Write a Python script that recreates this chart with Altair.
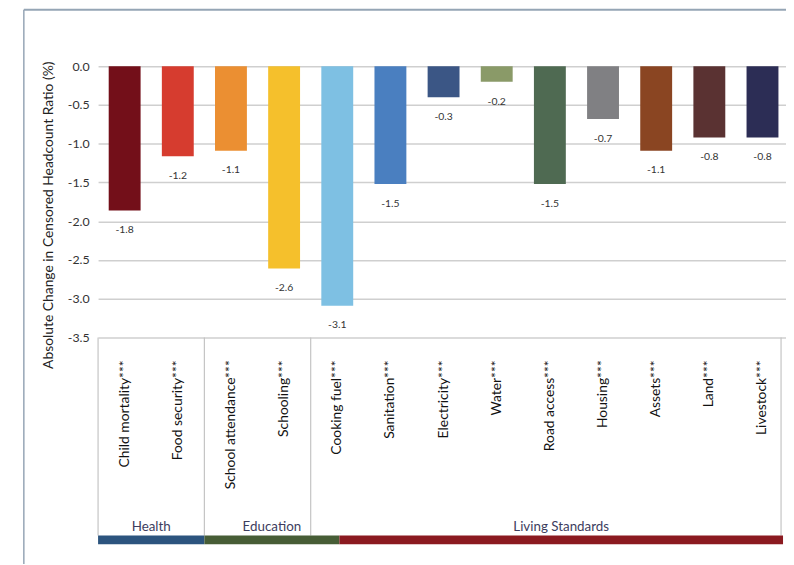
import altair as alt
import pandas as pd

# ---------------- data ----------------
categories = ["Child mortality***", "Food security***", "School attendance***", "Schooling***",
              "Cooking fuel***", "Sanitation***", "Electricity***", "Water***", "Road access***",
              "Housing***", "Assets***", "Land***", "Livestock***"]
values = [-1.86, -1.16, -1.09, -2.61, -3.09, -1.52, -0.40, -0.20, -1.52, -0.68, -1.09, -0.92, -0.92]
value_labels = ["-1.8", "-1.2", "-1.1", "-2.6", "-3.1", "-1.5", "-0.3", "-0.2", "-1.5",
                "-0.7", "-1.1", "-0.8", "-0.8"]
bar_colors = ["#730f19", "#d63c2f", "#eb8f32", "#f5c02c", "#7ec0e3", "#4a7fc0", "#3b5685",
              "#8a9a68", "#4f6a52", "#808083", "#8a4522", "#5a3232", "#2c2d55"]
groups = ["Health", "Education", "Living Standards"]
group_colors = ["#2c547e", "#475d36", "#8b1a20"]
y_ticks = [0.0, -0.5, -1.0, -1.5, -2.0, -2.5, -3.0, -3.5]

df = pd.DataFrame({"cat": categories, "val": values, "lab": value_labels})

# ---------------- layout ----------------
FONT = "Lato"
PLOT_W = 692
PLOT_H = 274
TOTAL_H = 500
STEP = 53.7
X_RANGE = STEP * len(categories)
SEP_TOP, SEP_BOTTOM = PLOT_H, 474
BAND_TOP, BAND_BOTTOM = 474, 483
group_edges = [0, 2 * STEP, 4.54 * STEP, PLOT_W]
separators = [0, 2 * STEP, 4 * STEP, PLOT_W - 2]

x_enc = alt.X("cat:N", sort=categories,
              scale=alt.Scale(domain=categories, range=[0, X_RANGE],
                              paddingInner=0.4, paddingOuter=0.2),
              axis=None)
y_scale = alt.Scale(domain=[-3.5, 0], range=[PLOT_H, 0], nice=False, zero=False)

base = alt.Chart(df)

bars = base.mark_bar().encode(
    x=x_enc,
    y=alt.Y("val:Q", scale=y_scale,
            axis=alt.Axis(values=y_ticks,
                          labelExpr="replace(format(datum.value, '.1f'), '\u2212', '-')",
                          domain=False, ticks=False, labelPadding=9,
                          gridColor="#cfcfcf", gridWidth=1.5,
                          labelFont=FONT, labelFontSize=12.5, labelColor="#333333",
                          title="Absolute Change in Censored Headcount Ratio (%)",
                          titleFont=FONT, titleFontSize=14, titleFontWeight="normal",
                          titleColor="#222222", titlePadding=12, titleY=150)),
    color=alt.Color("cat:N", scale=alt.Scale(domain=categories, range=bar_colors), legend=None),
)

bar_text = base.mark_text(dy=20, fontSize=10.5, font=FONT, color="#333333").encode(
    x=x_enc,
    y=alt.Y("val:Q", scale=y_scale),
    text="lab:N",
)

cat_text = base.mark_text(angle=270, align="right", baseline="middle",
                          fontSize=14, font=FONT, color="#111111").encode(
    x=x_enc,
    y=alt.value(297),
    text="cat:N",
)

one = pd.DataFrame({"d": [0]})
layers = [bars, bar_text, cat_text]

for px in separators:
    layers.append(alt.Chart(one).mark_rule(color="#c4c4c4", strokeWidth=1.2).encode(
        x=alt.value(px), y=alt.value(SEP_TOP), y2=alt.value(SEP_BOTTOM)))

for i, g in enumerate(groups):
    x0, x1 = group_edges[i], group_edges[i + 1]
    layers.append(alt.Chart(one).mark_rect(color=group_colors[i]).encode(
        x=alt.value(x0), x2=alt.value(x1), y=alt.value(BAND_TOP), y2=alt.value(BAND_BOTTOM)))
    layers.append(alt.Chart(one).mark_text(fontSize=13.5, font=FONT, color="#3d3d5e",
                                           baseline="alphabetic", align="center").encode(
        x=alt.value((x0 + x1) / 2), y=alt.value(470), text=alt.value(g)))

# outer frame
layers.append(alt.Chart(one).mark_rule(color="#95a5b5", strokeWidth=2).encode(
    x=alt.value(-75), x2=alt.value(700), y=alt.value(-57)))
layers.append(alt.Chart(one).mark_rule(color="#95a5b5", strokeWidth=1.5).encode(
    x=alt.value(-75), y=alt.value(-57), y2=alt.value(TOTAL_H + 10)))

chart = alt.layer(*layers).properties(
    width=PLOT_W, height=TOTAL_H,
    autosize=alt.AutoSizeParams(type="none"),
    padding={"left": 91, "top": 56, "right": 3, "bottom": 0},
).configure_view(stroke=None)

chart.save("out.html", embed_options={"renderer": "svg", "actions": False})
